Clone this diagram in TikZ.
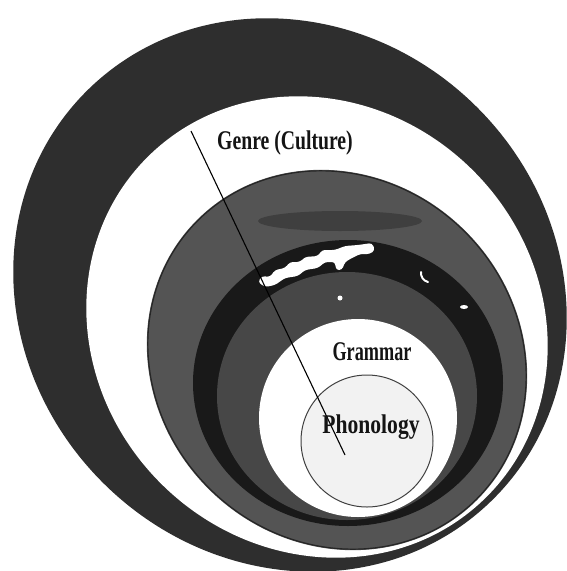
\documentclass[tikz,border=0pt]{standalone}
\usepackage{fontspec}
\setmainfont{Liberation Serif}
\begin{document}
\begin{tikzpicture}[x=1pt,y=-1pt,
  lbl/.style={font=\fontsize{27}{30}\selectfont\bfseries, text=black!92, inner sep=0pt, anchor=base},
  ringline/.style={black!85, line width=1.2pt},
  connector/.style={black, line width=1.1pt}]
\useasboundingbox (0,0) rectangle (567,571);
\fill[white] (0,0) rectangle (567,571);
% outer dark ring (Genre / Culture)
\fill[black!82] (290,295) ellipse [x radius=288pt, y radius=265pt, rotate=-45];
\fill[white] (317,327) ellipse [x radius=240pt, y radius=221pt, rotate=-45];
% grey ring (context of situation)
\fill[black!67] (337,360) ellipse [x radius=198pt, y radius=182pt, rotate=-45];
\draw[ringline] (337,360) ellipse [x radius=197pt, y radius=181pt, rotate=-45];
\fill[black!85, opacity=0.45] (340,221) ellipse [x radius=82pt, y radius=10pt];
% black ring
\fill[black!90] (348,383) ellipse [x radius=155pt, y radius=143pt];
\fill[black!72] (347,396) ellipse [x radius=130pt, y radius=124pt];
% white smudge on the black ring
\fill[white, rounded corners=3pt] (258,282) -- (262,276) -- (270,277) -- (275,270) -- (285,268) -- (290,262)
  -- (300,262) -- (305,257) -- (318,256) -- (322,250) -- (335,250) -- (345,246)
  -- (358,245) -- (372,243) -- (375,250) -- (370,254) -- (360,254) -- (352,258)
  -- (345,262) -- (342,270) -- (336,270) -- (335,262) -- (325,262) -- (318,268)
  -- (305,270) -- (298,276) -- (285,278) -- (275,285) -- (265,287) -- cycle;
\fill[white] (340,298) circle [radius=2.5pt];
\fill[white] (464,307) ellipse [x radius=4pt, y radius=2pt];
\draw[white, line width=2pt, line cap=round] (421,272) to[bend right=40] (428,282);
% Grammar circle
\fill[white] (358,418) circle [radius=99pt];
% Phonology circle
\draw[black!75, line width=1pt, fill=black!5] (367,441) circle [radius=66pt];
% connector line
\coordinate (lineA) at (191,131);
\coordinate (lineB) at (345,455);
\draw[connector] (lineA) -- (lineB);
% labels
\node[lbl, xscale=0.73] (genre) at (285,149) {Genre (Culture)};
\node[lbl, xscale=0.675] (grammar) at (372,360) {Grammar};
\node[lbl, xscale=0.80] (phon) at (371,433) {Phonology};
\end{tikzpicture}
\end{document}
